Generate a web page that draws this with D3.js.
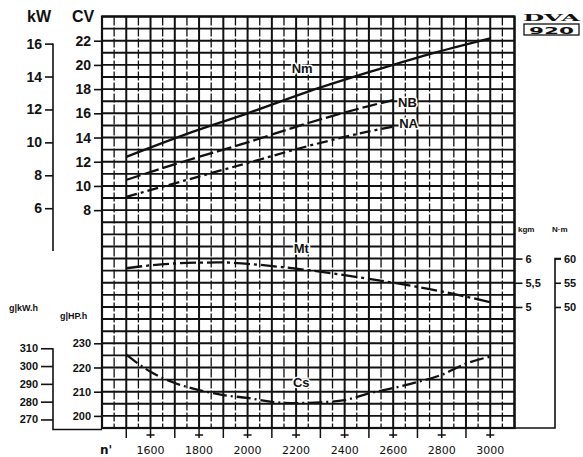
<!DOCTYPE html>
<html>
<head>
<meta charset="utf-8">
<script src="https://cdn.jsdelivr.net/npm/d3@7"></script>
<style>
body { margin: 0; background: #fff; }
</style>
</head>
<body>
<svg id="canvas" width="583" height="457"></svg>
<script>
// engine speed (rpm) and the curves
var rpmNm = [1500, 1750, 2000, 2250, 2500, 2750, 3000];
var nmCV = [12.4, 14.3, 16.0, 17.8, 19.4, 20.9, 22.2];

var rpmNbNa = [1500, 1750, 2000, 2250, 2500, 2600];
var nbCV = [10.5, 12.1, 13.6, 15.2, 16.6, 17.1];
var naCV = [9.1, 10.5, 11.9, 13.3, 14.5, 14.9];

var rpmMt = [1500, 1600, 1750, 1900, 2000, 2250, 2500, 2750, 3000];
var mtKgm = [5.8, 5.86, 5.91, 5.92, 5.89, 5.76, 5.58, 5.37, 5.1];

var rpmCs = [1500, 1600, 1700, 1800, 1900, 2000, 2100, 2200, 2300, 2400, 2500, 2600, 2700, 2800, 2900, 3000];
var csGHph = [225.3, 218.2, 213.6, 210.7, 208.6, 207.4, 205.8, 205.3, 205.6, 206.5, 209.3, 211.5, 214.0, 217.0, 221.6, 224.5];

// tick labels
var rpmTicks = [1600, 1800, 2000, 2200, 2400, 2600, 2800, 3000];
var cvTicks = [8, 10, 12, 14, 16, 18, 20, 22];
var kwTicks = [6, 8, 10, 12, 14, 16];
var hphTicks = [200, 210, 220, 230];
var kwhTicks = [270, 280, 290, 300, 310];
var kgmTicks = [5, 5.5, 6];
var nmTicks = [50, 55, 60];

var svg = d3.select('#canvas');
var frame = { left: 102, right: 514.5, top: 16.5, bottom: 428 };
var yRange = [frame.top, frame.bottom];
var cvPerKw = 1.36;

// one grid, several unit systems on it
var x = d3.scaleLinear().domain([1400, 3100]).range([frame.left, frame.right]);
var yCV = d3.scaleLinear().domain([24, -10]).range(yRange);
var yKW = d3.scaleLinear().domain([24 / cvPerKw, -10 / cvPerKw]).range(yRange);
var yKgm = d3.scaleLinear().domain([11, 2.5]).range(yRange);
var yNm = d3.scaleLinear().domain([110, 25]).range(yRange);
var yHph = d3.scaleLinear().domain([365, 195]).range(yRange);
var yKwh = d3.scaleLinear().domain([365 * cvPerKw, 195 * cvPerKw]).range(yRange);

var ink = '#111';
var comma = function (d) { return String(d).replace('.', ','); };

// grid
var grid = svg.append('g').attr('stroke', ink);
grid.selectAll('line.v')
	.data(d3.range(1400, 3101, 50))
	.enter().append('line')
	.attr('x1', d => x(d)).attr('x2', d => x(d))
	.attr('y1', frame.top).attr('y2', frame.bottom)
	.attr('stroke-width', d => d % 100 === 0 ? 2 : 1.3)
	.attr('stroke-dasharray', d => d % 100 === 0 ? null : '9,2');
grid.selectAll('line.h')
	.data(d3.range(-10, 24.01, 1))
	.enter().append('line')
	.attr('x1', frame.left).attr('x2', frame.right)
	.attr('y1', d => yCV(d)).attr('y2', d => yCV(d))
	.attr('stroke-width', 1.9);
svg.append('rect')
	.attr('x', frame.left).attr('y', frame.top)
	.attr('width', frame.right - frame.left).attr('height', frame.bottom - frame.top)
	.attr('fill', 'none').attr('stroke', ink).attr('stroke-width', 2.2);

// rpm ticks below the grid
var rpmMarks = svg.append('g').attr('stroke', ink).attr('stroke-width', 1.5);
rpmMarks.selectAll('line')
	.data(d3.range(1500, 3001, 100))
	.enter().append('line')
	.attr('x1', d => x(d)).attr('x2', d => x(d))
	.attr('y1', frame.bottom).attr('y2', frame.bottom + 10);
rpmMarks.selectAll('line.cross')
	.data(rpmTicks)
	.enter().append('line')
	.attr('x1', d => x(d) - 4).attr('x2', d => x(d) + 4)
	.attr('y1', frame.bottom + 7).attr('y2', frame.bottom + 7);
svg.append('g').selectAll('text')
	.data(rpmTicks)
	.enter().append('text')
	.attr('x', d => x(d)).attr('y', 454)
	.attr('text-anchor', 'middle')
	.style('font', '11px "DejaVu Sans"').attr('fill', ink)
	.text(d => d);
svg.append('text').attr('x', x(1400) - 2).attr('y', 454)
	.style('font', 'bold 12px "DejaVu Sans"').attr('fill', ink).text("n'");

// helper for the vertical scales
function sideAxis(axis, tx, tickVals, fmt, size, font) {
	var g = svg.append('g')
		.attr('transform', 'translate(' + tx + ',0)')
		.call(axis.tickValues(tickVals).tickSize(size).tickPadding(3).tickFormat(fmt));
	g.select('.domain').remove();
	g.selectAll('line').attr('stroke', ink).attr('stroke-width', 1.6);
	g.selectAll('text').attr('fill', ink).style('font', font);
	return g;
}
var bigFont = 'bold 14px "Liberation Sans"';
var smallFont = 'bold 11px "Liberation Sans"';

// CV and kW
sideAxis(d3.axisLeft(yCV), frame.left, cvTicks, d3.format('d'), 8, bigFont);
sideAxis(d3.axisLeft(yKW), 53, kwTicks, d3.format('d'), 8, bigFont);
svg.append('line').attr('x1', 53).attr('x2', 53)
	.attr('y1', yKW(16)).attr('y2', yKW(3.4))
	.attr('stroke', ink).attr('stroke-width', 1.6);
svg.append('text').attr('x', 27).attr('y', 22).style('font', 'bold 16px "Liberation Sans"').attr('fill', ink).text('kW');
svg.append('text').attr('x', 72).attr('y', 22).style('font', 'bold 16px "Liberation Sans"').attr('fill', ink).text('CV');

// specific consumption
sideAxis(d3.axisLeft(yHph), frame.left, hphTicks, d3.format('d'), 8, smallFont);
sideAxis(d3.axisLeft(yKwh), 53, kwhTicks, d3.format('d'), 12, smallFont);
svg.append('path')
	.attr('d', 'M53,' + yKwh(310) + 'V' + (frame.bottom + 1.5) + 'H' + frame.left)
	.attr('fill', 'none').attr('stroke', ink).attr('stroke-width', 1.6);
svg.append('text').attr('x', 9).attr('y', 311).style('font', 'bold 9px "Liberation Sans"').attr('fill', ink).text('g|kW.h');
svg.append('text').attr('x', 60).attr('y', 319).style('font', 'bold 9px "Liberation Sans"').attr('fill', ink).text('g|HP.h');

// torque
sideAxis(d3.axisRight(yKgm), frame.right, kgmTicks, comma, 8, smallFont);
sideAxis(d3.axisRight(yNm), 555, nmTicks, d3.format('d'), 6, smallFont);
svg.append('path')
	.attr('d', 'M' + (555 + 6) + ',' + yNm(60) + 'H555V' + frame.bottom + 'H' + frame.right)
	.attr('fill', 'none').attr('stroke', ink).attr('stroke-width', 1.6);
svg.append('text').attr('x', 518).attr('y', 232).style('font', 'bold 8px "Liberation Sans"').attr('fill', ink).text('kgm');
svg.append('text').attr('x', 552).attr('y', 232).style('font', 'bold 8px "Liberation Sans"').attr('fill', ink).text('N·m');

// curves
var curves = [
	{ name: 'Nm', xs: rpmNm, ys: nmCV, y: yCV, dash: null, lab: [2225, 19.7], anchor: 'middle' },
	{ name: 'NB', xs: rpmNbNa, ys: nbCV, y: yCV, dash: '15,4', lab: [2620, 16.9], anchor: 'start' },
	{ name: 'NA', xs: rpmNbNa, ys: naCV, y: yCV, dash: '11,4,3,4', lab: [2625, 15.2], anchor: 'start' },
	{ name: 'Mt', xs: rpmMt, ys: mtKgm, y: yKgm, dash: '16,4,3,4', lab: [2221, 6.2], anchor: 'middle' },
	{ name: 'Cs', xs: rpmCs, ys: csGHph, y: yHph, dash: '14,4,2,4', lab: [2221, 214], anchor: 'middle' }
];
curves.forEach(function (c) {
	var line = d3.line()
		.x(d => x(d[0]))
		.y(d => c.y(d[1]))
		.curve(d3.curveMonotoneX);
	svg.append('path')
		.attr('d', line(d3.zip(c.xs, c.ys)))
		.attr('fill', 'none').attr('stroke', ink)
		.attr('stroke-width', 2.3)
		.attr('stroke-dasharray', c.dash);
	svg.append('text')
		.attr('x', x(c.lab[0])).attr('y', c.y(c.lab[1]))
		.attr('dy', '0.35em').attr('text-anchor', c.anchor)
		.style('font', 'bold 13px "Liberation Sans"')
		.attr('fill', ink)
		.attr('stroke', '#fff').attr('stroke-width', 3).attr('paint-order', 'stroke')
		.text(c.name);
});

// model badge
svg.append('text').attr('x', 523).attr('y', 21)
	.attr('textLength', 57).attr('lengthAdjust', 'spacingAndGlyphs')
	.style('font', 'bold 10px "DejaVu Serif"').attr('fill', ink).text('DVA');
svg.append('rect').attr('x', 524).attr('y', 24).attr('width', 55).attr('height', 11)
	.attr('fill', 'none').attr('stroke', ink).attr('stroke-width', 1.3);
svg.append('text').attr('x', 529).attr('y', 33.5)
	.attr('textLength', 45).attr('lengthAdjust', 'spacingAndGlyphs')
	.style('font', 'bold 9px "DejaVu Sans"').attr('fill', ink).text('920');
</script>
</body>
</html>
